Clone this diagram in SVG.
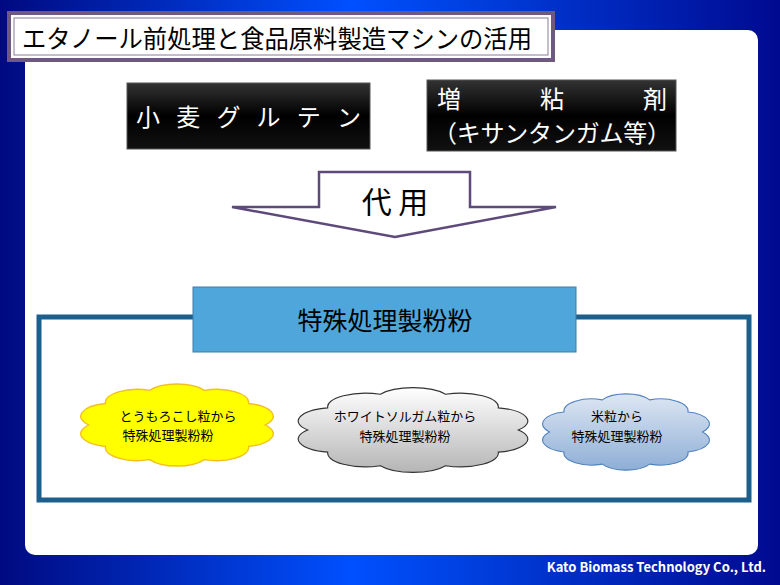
<svg xmlns="http://www.w3.org/2000/svg" width="780" height="585" viewBox="0 0 780 585">
<defs>
<linearGradient id="bg" x1="0" y1="0" x2="1" y2="0">
<stop offset="0" stop-color="#000a80"/><stop offset="0.45" stop-color="#0050ff"/><stop offset="0.6" stop-color="#0040e0"/><stop offset="1" stop-color="#000a90"/>
</linearGradient>
<linearGradient id="blk" x1="0" y1="0" x2="0" y2="1"><stop offset="0" stop-color="#333"/><stop offset="0.5" stop-color="#000"/><stop offset="1" stop-color="#111"/></linearGradient>
<linearGradient id="gray" x1="0" y1="0" x2="0" y2="1"><stop offset="0" stop-color="#fff"/><stop offset="1" stop-color="#b5b5b5"/></linearGradient>
<linearGradient id="blu" x1="0" y1="0" x2="0" y2="1"><stop offset="0" stop-color="#dde7f3"/><stop offset="1" stop-color="#8eaed6"/></linearGradient>
</defs>
<style>
text{font-family:"Noto Sans CJK JP",sans-serif;}
.w{fill:#fff;font-size:24px;}
.c{font-size:13px;fill:#000;text-anchor:middle;}
</style>
<rect width="780" height="585" fill="url(#bg)"/>
<rect x="25" y="30" width="733" height="525" rx="10" fill="#fff"/>
<g id="title">
<rect x="9" y="13" width="544" height="47" fill="#fff" stroke="#6e5a80" stroke-width="4"/>
<rect x="14" y="18" width="534" height="37" fill="none" stroke="#8a7a98" stroke-width="1"/>
<text x="22" y="48" font-size="25" textLength="510" lengthAdjust="spacingAndGlyphs">エタノール前処理と食品原料製造マシンの活用</text>
</g>
<g id="gluten">
<rect x="127" y="83" width="243" height="66" fill="url(#blk)" stroke="#555"/>
<text class="w" x="136" y="126" textLength="225">小 麦 グ ル テ ン</text>
</g>
<g id="thickener">
<rect x="427" y="80" width="249" height="71" fill="url(#blk)" stroke="#555"/>
<text class="w" x="437" y="108" textLength="230">増 粘 剤</text>
<text class="w" x="433" y="142" textLength="238">（キサンタンガム等）</text>
</g>
<g id="arrow">
<path d="M319,172 H470 V207 H556 L395,237 L232,207 H319 Z" fill="#fff" stroke="#5e4a7a" stroke-width="2.5"/>
<text x="395" y="213" font-size="30" text-anchor="middle">代 用</text>
</g>
<g id="frame">
<rect x="39" y="317" width="710" height="183" fill="#fff" stroke="#1d5f8c" stroke-width="5"/>
</g>
<g id="header">
<rect x="193" y="287" width="383" height="65" fill="#4ea6da" stroke="#3a7fae"/>
<text x="385" y="330" font-size="25" text-anchor="middle">特殊処理製粉粉</text>
</g>
<g id="corn">
<path transform="translate(177,425) scale(0.91) translate(-177,-425)" d="M274,425 A35,14.4 0 0 1 255.6,448.6 A35,14.4 0 0 1 207.1,463 A35,14.4 0 0 1 146.9,463 A35,14.4 0 0 1 98.4,448.6 A35,14.4 0 0 1 80,425 A35,14.4 0 0 1 98.4,401.4 A35,14.4 0 0 1 146.9,387 A35,14.4 0 0 1 207.1,387 A35,14.4 0 0 1 255.6,401.4 A35,14.4 0 0 1 274,425 Z" fill="#ffff00" stroke="#f0c020" stroke-width="1.5"/>
<text class="c" x="178" y="421">とうもろこし粒から</text>
<text class="c" x="168" y="440">特殊処理製粉粉</text>
</g>
<g id="sorghum">
<path transform="translate(413,430) scale(0.94) translate(-378,-430)" d="M490,430 A40.3,14.4 0 0 1 468.7,453.6 A40.3,14.4 0 0 1 412.7,468 A40.3,14.4 0 0 1 343.3,468 A40.3,14.4 0 0 1 287.3,453.6 A40.3,14.4 0 0 1 266,430 A40.3,14.4 0 0 1 287.3,406.4 A40.3,14.4 0 0 1 343.3,392 A40.3,14.4 0 0 1 412.7,392 A40.3,14.4 0 0 1 468.7,406.4 A40.3,14.4 0 0 1 490,430 Z" fill="url(#gray)" stroke="#333" stroke-width="1.2"/>
<text class="c" x="405" y="421">ホワイトソルガム粒から</text>
<text class="c" x="405" y="441">特殊処理製粉粉</text>
</g>
<g id="rice">
<path transform="translate(626,432) scale(0.89) translate(-626,-430)" d="M712,430 A31,13.7 0 0 1 695.7,452.4 A31,13.7 0 0 1 652.7,466.1 A31,13.7 0 0 1 599.3,466.1 A31,13.7 0 0 1 556.3,452.4 A31,13.7 0 0 1 540,430 A31,13.7 0 0 1 556.3,407.6 A31,13.7 0 0 1 599.3,393.9 A31,13.7 0 0 1 652.7,393.9 A31,13.7 0 0 1 695.7,407.6 A31,13.7 0 0 1 712,430 Z" fill="url(#blu)" stroke="#4f81bd" stroke-width="1.2"/>
<text class="c" x="617" y="421">米粒から</text>
<text class="c" x="617" y="441">特殊処理製粉粉</text>
</g>
<g id="connectors"></g>
<text x="766" y="572" font-family="Liberation Serif,serif" font-size="13" fill="#fff" text-anchor="end" font-weight="bold">Kato Biomass Technology Co., Ltd.</text>
</svg>
